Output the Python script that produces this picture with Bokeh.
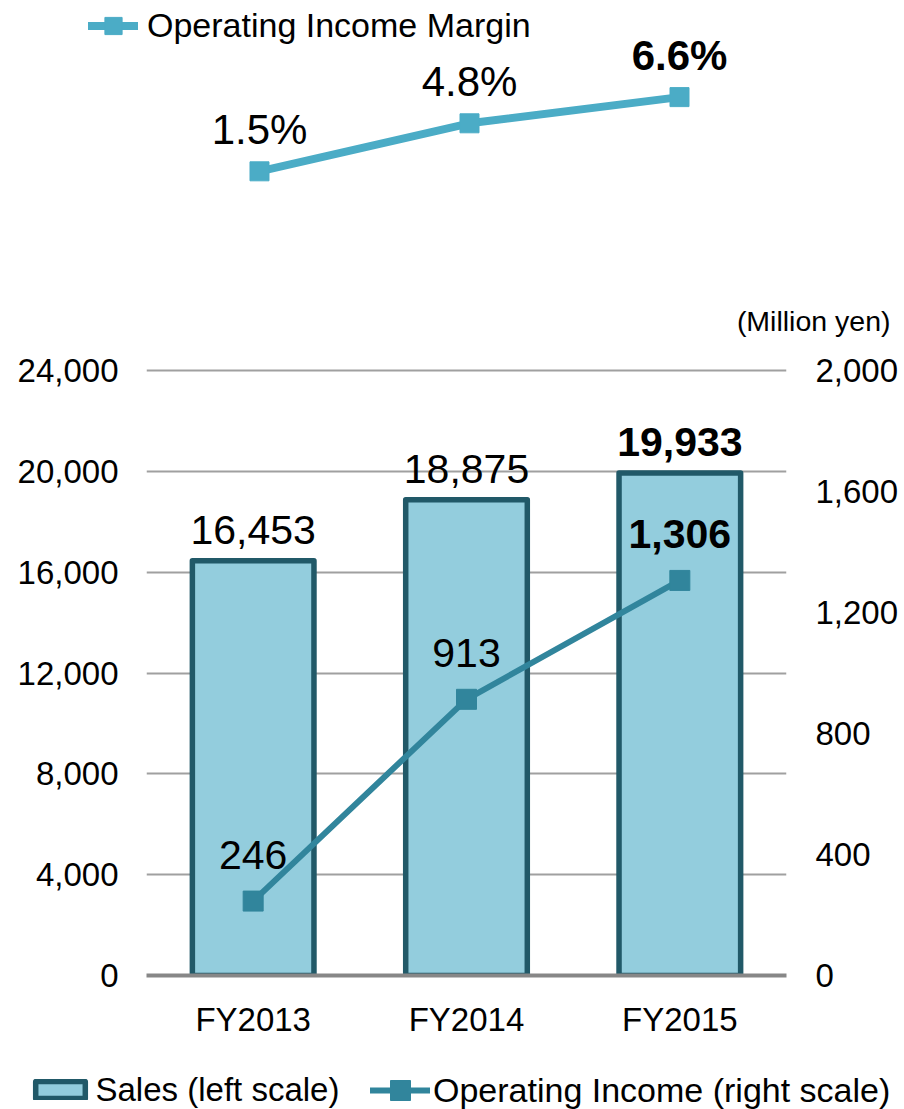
from bokeh.plotting import figure
from bokeh.models import (FactorRange, Range1d, LinearAxis, FixedTicker, NumeralTickFormatter,
                          ColumnDataSource, Legend, LegendItem, Label)
from bokeh.layouts import column, row
from bokeh.embed import file_html
from bokeh.resources import INLINE
from bokeh.core.properties import value

# ---------------- data ----------------
years = ["FY2013", "FY2014", "FY2015"]
sales = [16453, 18875, 19933]            # million yen, left scale
op_income = [246, 913, 1306]             # million yen, right scale
op_margin = [1.5, 4.8, 6.6]              # %
left_ticks = [0, 4000, 8000, 12000, 16000, 20000, 24000]
right_ticks = [0, 400, 800, 1200, 1600, 2000]

# ---------------- style ----------------
FONT = "Liberation Sans"
MARGIN_C = "#4BACC6"
OI_C = "#31859C"
BAR_FILL = "#93CDDD"
BAR_LINE = "#215968"
GRID_C = "#A0A0A0"
TICK_FS = "33px"
W = 904

last = len(years) - 1
styles = ["bold" if i == last else "normal" for i in range(len(years))]

msrc = ColumnDataSource(dict(x=years, y=op_margin,
                             label=[f"{v:.1f}%" for v in op_margin], style=styles))
bsrc = ColumnDataSource(dict(x=years, top=sales, label=[f"{v:,}" for v in sales], style=styles))
osrc = ColumnDataSource(dict(x=years, y=op_income, label=[f"{v:,}" for v in op_income], style=styles))

common = dict(orientation="horizontal", padding=0, margin=0, spacing=0,
              border_line_color=None, background_fill_alpha=0, inactive_fill_alpha=0,
              label_text_font=FONT, label_text_color="#000000")

# ================= top panel: operating income margin =================
top = figure(width=W, height=345,
             x_range=FactorRange(*years, range_padding=0.5714, range_padding_units="absolute"),
             y_range=Range1d(-10.47, 13.24),
             x_axis_location=None, y_axis_location=None,
             toolbar_location=None, output_backend="svg",
             min_border_left=34, min_border_right=0, min_border_top=0, min_border_bottom=0)
top.outline_line_color = None
top.grid.visible = False

ml = top.line("x", "y", source=msrc, line_color=MARGIN_C, line_width=8, line_cap="round")
ms = top.scatter("x", "y", source=msrc, marker="square", size=19,
                 fill_color=MARGIN_C, line_color=MARGIN_C)
top.text("x", "y", text="label", source=msrc, text_font=value(FONT),
         text_font_size=value("42px"), text_font_style="style",
         text_align="center", text_baseline="middle", y_offset=-42, text_color="#000000")

top.add_layout(Legend(items=[LegendItem(label="Operating Income Margin", renderers=[ml, ms])],
                      location=(54, 298.5), glyph_width=50, glyph_height=43, label_standoff=9,
                      label_text_font_size="34px", **common))
top.add_layout(Label(x=856, y=25, x_units="screen", y_units="screen", text="(Million yen)",
                     text_font=FONT, text_font_size="28.5px", text_align="right",
                     text_baseline="middle", text_color="#000000"))

# ================= main panel: sales bars + operating income =================
p = figure(width=W, height=700, x_range=FactorRange(*years), y_range=Range1d(0, 24320),
           toolbar_location=None, output_backend="svg",
           min_border_left=146, min_border_right=118, min_border_top=17, min_border_bottom=70)
p.outline_line_color = None
p.extra_y_ranges = {"oi": Range1d(0, 2026.4)}

p.xgrid.visible = False
p.ygrid.ticker = FixedTicker(ticks=left_ticks)
p.ygrid.grid_line_color = GRID_C
p.ygrid.grid_line_width = 2

bars = p.vbar(x="x", top="top", bottom=0, width=0.57, source=bsrc,
              fill_color=BAR_FILL, line_color=BAR_LINE, line_width=5.5, line_join="round")
p.text("x", "top", text="label", source=bsrc, text_font=value(FONT),
       text_font_size=value("41px"), text_font_style="style",
       text_align="center", text_baseline="middle", y_offset=-31, text_color="#000000")

ol = p.line("x", "y", source=osrc, y_range_name="oi", line_color=OI_C, line_width=6)
os_ = p.scatter("x", "y", source=osrc, y_range_name="oi", marker="square", size=20,
                fill_color=OI_C, line_color=OI_C)
p.text("x", "y", text="label", source=osrc, y_range_name="oi", text_font=value(FONT),
       text_font_size=value("41px"), text_font_style="style",
       text_align="center", text_baseline="middle", y_offset=-46, text_color="#000000")

xa = p.xaxis[0]
xa.axis_line_color = "#878787"
xa.axis_line_width = 4
xa.major_tick_line_color = None
xa.minor_tick_line_color = None
xa.major_tick_out = 0
xa.major_label_standoff = 25
xa.major_label_text_font = FONT
xa.major_label_text_font_size = TICK_FS
xa.major_label_text_color = "#000000"

ya = p.yaxis[0]
ya.ticker = FixedTicker(ticks=left_ticks)
ya.formatter = NumeralTickFormatter(format="0,0")
ya.axis_line_color = None
ya.major_tick_line_color = None
ya.minor_tick_line_color = None
ya.major_tick_out = 0
ya.major_label_standoff = 28
ya.major_label_text_font = FONT
ya.major_label_text_font_size = TICK_FS
ya.major_label_text_color = "#000000"

ra = LinearAxis(y_range_name="oi", ticker=FixedTicker(ticks=right_ticks),
                formatter=NumeralTickFormatter(format="0,0"))
ra.axis_line_color = None
ra.major_tick_line_color = None
ra.minor_tick_line_color = None
ra.major_tick_out = 0
ra.major_label_standoff = 29
ra.major_label_text_font = FONT
ra.major_label_text_font_size = TICK_FS
ra.major_label_text_color = "#000000"
p.add_layout(ra, "right")

# ================= bottom legend =================
lb = figure(width=W, height=64, x_range=FactorRange(*years), y_range=Range1d(0, 1),
            x_axis_location=None, y_axis_location=None,
            toolbar_location=None, output_backend="svg",
            min_border_left=0, min_border_right=0, min_border_top=0, min_border_bottom=0)
lb.outline_line_color = None
lb.grid.visible = False
lr_bar = lb.vbar(x="x", top="top", width=0.57, source=bsrc, visible=False,
                 fill_color=BAR_FILL, line_color=BAR_LINE, line_width=5.5, line_join="round")
lr_line = lb.line("x", "y", source=osrc, visible=False, line_color=OI_C, line_width=6,
                  line_cap="round")
lr_sq = lb.scatter("x", "y", source=osrc, visible=False, marker="square", size=20,
                   fill_color=OI_C, line_color=OI_C)

lb.add_layout(Legend(items=[LegendItem(label="Sales (left scale)", renderers=[lr_bar])],
                     location=(28.5, 0.5), glyph_width=62, glyph_height=21, label_standoff=5,
                     label_text_font_size="33px", **common))
lb.add_layout(Legend(items=[LegendItem(label="Operating Income (right scale)", renderers=[lr_line, lr_sq])],
                     location=(370, -6), glyph_width=60, glyph_height=50, label_standoff=3,
                     label_text_font_size="34px", **common))

layout = column(row(top), row(p), row(lb))
open("out.html", "w").write(file_html(layout, INLINE))
